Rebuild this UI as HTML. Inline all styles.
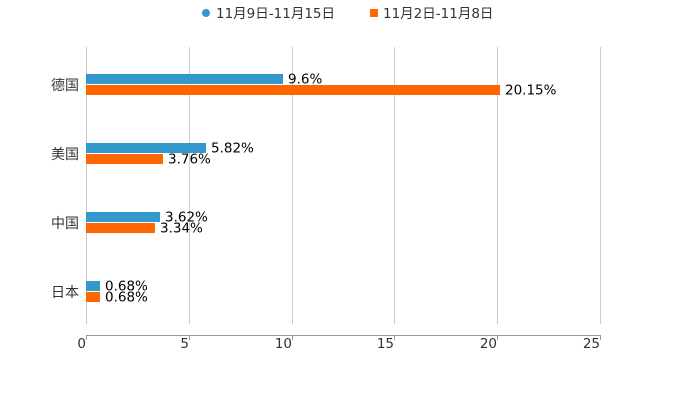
<!DOCTYPE html>
<html><head><meta charset="utf-8"><style>body{margin:0;background:#fff}svg{display:block}text{font-family:"DejaVu Sans","Noto Sans CJK SC",sans-serif}</style></head><body>
<svg width="700" height="400" xmlns="http://www.w3.org/2000/svg">
<g stroke="#ccc" stroke-width="1">
<line x1="86.5" y1="47" x2="86.5" y2="324"/><line x1="189.5" y1="47" x2="189.5" y2="324"/><line x1="292.5" y1="47" x2="292.5" y2="324"/><line x1="394.5" y1="47" x2="394.5" y2="324"/><line x1="497.5" y1="47" x2="497.5" y2="324"/><line x1="600.5" y1="47" x2="600.5" y2="324"/>
</g>
<g stroke="#999" stroke-width="1">
<line x1="86" y1="335.5" x2="601" y2="335.5"/>
<line x1="86.5" y1="335" x2="86.5" y2="340"/><line x1="189.5" y1="335" x2="189.5" y2="340"/><line x1="292.5" y1="335" x2="292.5" y2="340"/><line x1="394.5" y1="335" x2="394.5" y2="340"/><line x1="497.5" y1="335" x2="497.5" y2="340"/><line x1="600.5" y1="335" x2="600.5" y2="340"/>
</g>
<g font-size="13.5" fill="#333" text-anchor="end">
<text x="86" y="348">0</text><text x="189" y="348">5</text><text x="292" y="348">10</text><text x="394" y="348">15</text><text x="497" y="348">20</text><text x="600" y="348">25</text>
</g>
<g font-size="14" fill="#333" text-anchor="end">
<text x="79" y="90">德国</text><text x="79" y="159">美国</text><text x="79" y="228">中国</text><text x="79" y="297">日本</text>
</g>
<g fill="#3399cc">
<rect x="86" y="74" width="197" height="10"/><rect x="86" y="143" width="120" height="10"/><rect x="86" y="212" width="74" height="10"/><rect x="86" y="281" width="14" height="10"/>
</g>
<g fill="#ff6600">
<rect x="86" y="85" width="414" height="10"/><rect x="86" y="154" width="77" height="10"/><rect x="86" y="223" width="69" height="10"/><rect x="86" y="292" width="14" height="10"/>
</g>
<g font-size="13.5" fill="#000">
<text x="288" y="83.5">9.6%</text><text x="505" y="94.5">20.15%</text>
<text x="211" y="152.5">5.82%</text><text x="168" y="163.5">3.76%</text>
<text x="165" y="221.5">3.62%</text><text x="160" y="232.5">3.34%</text>
<text x="105" y="290.5">0.68%</text><text x="105" y="301.5">0.68%</text>
</g>
<circle cx="206" cy="13" r="4" fill="#3399cc"/>
<rect x="370" y="9" width="8" height="8" fill="#ff6600"/>
<g font-size="13.5" fill="#333">
<text x="216" y="18">11月9日-11月15日</text><text x="383" y="18">11月2日-11月8日</text>
</g>
</svg>
</body></html>
